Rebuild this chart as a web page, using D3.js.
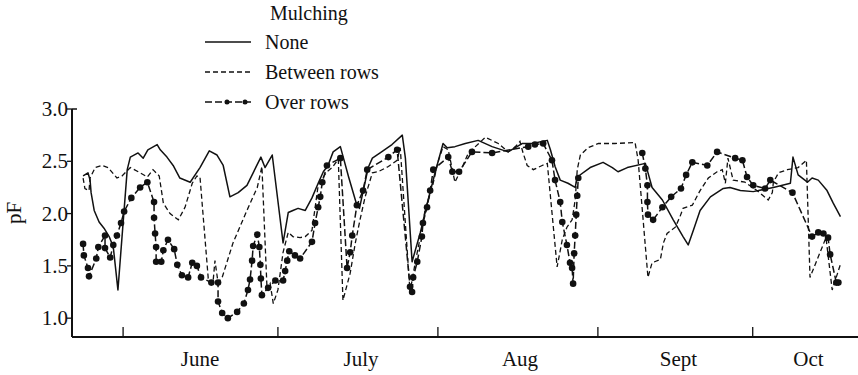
<!DOCTYPE html>
<html><head><meta charset="utf-8">
<script src="https://cdn.jsdelivr.net/npm/d3@7/dist/d3.min.js"></script>
<style>html,body{margin:0;padding:0;background:#fff;}</style>
</head><body>
<svg id="c" width="858" height="375" font-family="'Liberation Serif', 'Times New Roman', 'DejaVu Serif', serif"></svg>
<script>
// Days counted from June 1 (day 0); values are pF
const monthTickDays = [0, 30, 61, 92, 122];
const monthLabels = ["June", "July", "Aug", "Sept", "Oct"];
const monthLabelDays = [14.9, 46.1, 76.9, 107.6, 132.8];
const yTicks = [1.0, 1.5, 2.0, 2.5, 3.0];
const legendTitle = "Mulching";
const seriesNames = ["None", "Between rows", "Over rows"];

const noneSeries = [
[-7.75,2.36],[-6.8,2.39],[-6.4,2.32],[-6.2,2.20],[-5.6,2.03],[-4.65,1.92],[-3.7,1.86],[-2.7,1.78],[-1.9,1.68],[-1.0,1.27],
[0.8,2.42],[1.4,2.54],[2.9,2.58],[3.9,2.53],[4.8,2.61],[6.6,2.66],[7.2,2.61],[8.5,2.54],[9.7,2.46],[11.0,2.34],
[13.0,2.30],[14.9,2.44],[16.7,2.60],[18.2,2.56],[19.4,2.46],[20.7,2.16],[22.3,2.20],[24.0,2.27],[25.2,2.39],[26.7,2.54],
[27.5,2.44],[28.9,2.56],[31.0,1.72],[32.0,2.01],[32.9,2.03],[33.9,2.05],[35.3,2.03],[36.6,2.15],[37.8,2.29],[38.8,2.40],
[39.7,2.46],[40.7,2.59],[42.1,2.64],[43.7,2.35],[45.3,2.08],[45.8,2.05],[47.5,2.44],[48.3,2.53],[49.8,2.58],[52.1,2.66],
[54.1,2.75],[54.7,2.53],[56.0,1.54],[57.6,1.82],[59.1,2.13],[60.5,2.40],[62.0,2.67],[62.8,2.63],[64.3,2.64],[66.3,2.67],
[68.8,2.70],[71.5,2.64],[74.6,2.59],[76.0,2.63],[77.3,2.67],[79.3,2.67],[82.2,2.70],[82.8,2.61],[83.7,2.45],[84.7,2.32],
[86.2,2.29],[87.6,2.25],[88.0,2.35],[90.5,2.44],[93.0,2.49],[94.8,2.44],[95.9,2.40],[97.7,2.44],[101.2,2.48],[102.5,2.25],
[104.5,2.13],[106.6,1.94],[108.5,1.78],[109.5,1.70],[110.5,1.84],[111.8,2.03],[113.8,2.16],[116.3,2.24],[117.6,2.25],[119.6,2.22],
[122.1,2.21],[126.0,2.25],[129.3,2.29],[129.8,2.54],[130.8,2.37],[132.6,2.30],[133.5,2.34],[134.7,2.32],[136.4,2.22],[137.6,2.10],
[139.0,1.97]
];

const betweenSeries = [
[-7.75,2.34],[-7.4,2.24],[-6.6,2.22],[-6.4,2.34],[-5.4,2.44],[-4.1,2.46],[-2.9,2.44],[-1.2,2.34],[-0.2,2.36],[1.4,2.44],
[3.3,2.39],[4.7,2.35],[5.8,2.42],[7.0,2.36],[7.8,2.10],[9.1,2.00],[10.7,1.94],[12.0,2.06],[13.4,2.29],[14.3,2.36],
[14.9,2.35],[16.5,1.38],[17.4,1.33],[17.8,1.55],[18.4,1.34],[19.2,1.39],[21.3,1.72],[24.0,2.03],[26.0,2.25],[26.9,2.45],
[27.9,1.27],[28.5,1.33],[29.1,1.14],[30.0,1.27],[31.0,1.63],[32.0,1.82],[32.9,1.78],[34.3,1.77],[35.3,1.78],[36.6,1.84],
[37.8,2.27],[38.8,2.35],[39.5,2.40],[40.5,2.44],[41.7,2.52],[42.6,1.17],[44.0,1.43],[45.0,1.72],[45.9,1.94],[46.9,2.16],
[48.3,2.39],[49.4,2.40],[51.4,2.45],[53.1,2.51],[53.7,2.63],[55.6,1.25],[56.6,1.53],[57.6,1.78],[58.5,2.03],[59.9,2.25],
[61.0,2.49],[62.0,2.64],[63.0,2.61],[64.3,2.30],[65.7,2.44],[66.9,2.58],[67.6,2.61],[70.2,2.73],[72.7,2.67],[74.6,2.59],
[76.0,2.64],[76.9,2.69],[77.5,2.58],[78.3,2.46],[79.5,2.42],[81.2,2.46],[82.2,2.48],[84.1,1.49],[85.1,1.75],[86.0,1.87],
[87.0,1.94],[87.6,2.13],[88.0,2.42],[88.6,2.56],[90.1,2.63],[92.1,2.67],[95.3,2.67],[99.2,2.68],[99.8,2.51],[101.7,1.39],
[102.5,1.53],[104.1,1.56],[104.7,1.72],[105.4,1.81],[107.0,1.87],[107.9,1.97],[108.5,2.05],[110.3,2.08],[111.8,2.22],[113.4,2.34],
[115.1,2.40],[116.1,2.42],[116.7,2.29],[117.2,2.53],[118.2,2.32],[120.5,2.30],[123.1,2.21],[125.0,2.13],[125.8,2.20],[126.0,2.30],
[127.0,2.39],[128.7,2.42],[130.8,2.44],[132.4,2.51],[133.1,1.39],[136.2,1.77],[137.4,1.27],[139.1,1.53]
];

const overSeries = [
[-7.75,1.71],[-7.6,1.60],[-6.8,1.48],[-6.6,1.40],[-5.2,1.57],[-4.8,1.68],[-3.5,1.79],[-3.5,1.67],[-2.5,1.58],[-1.9,1.70],
[-1.2,1.79],[-0.4,1.91],[0.2,2.02],[1.6,2.15],[3.3,2.25],[4.7,2.30],[6.0,2.11],[6.0,1.96],[6.2,1.81],[6.4,1.68],
[6.4,1.54],[7.4,1.54],[7.8,1.65],[8.7,1.75],[9.9,1.66],[10.5,1.51],[11.4,1.41],[12.6,1.39],[13.4,1.53],[14.3,1.50],
[15.1,1.39],[17.1,1.34],[18.4,1.34],[18.4,1.16],[19.2,1.05],[20.3,1.00],[22.1,1.06],[23.4,1.14],[24.2,1.27],[24.6,1.37],
[25.0,1.55],[25.2,1.69],[26.0,1.80],[26.4,1.68],[26.6,1.51],[26.7,1.38],[26.9,1.22],[28.1,1.29],[29.5,1.36],[31.0,1.36],
[31.4,1.45],[31.8,1.55],[32.2,1.64],[33.3,1.60],[34.3,1.57],[36.6,1.73],[37.2,1.91],[37.8,2.06],[38.2,2.16],[38.6,2.30],
[39.5,2.46],[42.1,2.53],[43.4,1.48],[44.0,1.63],[44.4,1.79],[45.3,2.08],[46.5,2.22],[47.3,2.42],[51.4,2.54],[53.1,2.61],
[55.6,1.30],[56.0,1.25],[56.2,1.39],[57.0,1.54],[57.9,1.78],[58.1,1.91],[58.9,2.06],[59.5,2.22],[60.1,2.42],[63.0,2.54],
[63.8,2.40],[65.1,2.40],[67.6,2.59],[71.5,2.58],[78.5,2.64],[79.8,2.66],[81.4,2.67],[83.1,2.51],[83.7,2.32],[84.7,2.11],
[85.1,1.92],[86.0,1.70],[86.6,1.53],[87.0,1.48],[87.2,1.33],[87.4,1.62],[87.6,1.79],[87.8,1.99],[88.0,2.17],[88.2,2.34],
[null,null],
[100.6,2.58],[101.2,2.43],[101.6,2.27],[101.6,2.11],[101.7,1.99],[102.7,1.94],[104.5,2.06],[106.2,2.16],[108.1,2.24],[109.1,2.37],
[110.3,2.49],[113.2,2.46],[115.1,2.59],[118.6,2.53],[120.0,2.51],[120.9,2.35],[122.1,2.27],[124.4,2.24],[125.4,2.32],[129.7,2.20],
[133.5,1.78],[134.7,1.82],[135.7,1.81],[136.6,1.77],[137.0,1.61],[138.2,1.34],[138.6,1.34]
];

const FONT = "'Liberation Serif', 'Times New Roman', 'DejaVu Serif', serif";
const svg = d3.select("#c");
const x = d3.scaleLinear().domain([-9.9, 142.4]).range([72, 858]);
const y = d3.scaleLinear().domain([0.82, 3.0]).range([337, 109]);

function txt(sel, size) { return sel.append("text").attr("font-family", FONT).attr("fill", "#111").attr("font-size", size || 20); }

// axes
svg.append("line").attr("x1", x(-9.9)).attr("x2", 858).attr("y1", y(0.82)).attr("y2", y(0.82))
  .attr("stroke", "#111").attr("stroke-width", 2.2);
svg.append("line").attr("x1", x(-9.9)).attr("x2", x(-9.9)).attr("y1", y(3.0)).attr("y2", y(0.82))
  .attr("stroke", "#111").attr("stroke-width", 2);
svg.append("line").attr("x1", x(-9.9)).attr("x2", x(-9.9) + 5).attr("y1", y(3.0)).attr("y2", y(3.0))
  .attr("stroke", "#111").attr("stroke-width", 1.5);

const yg = svg.append("g");
yTicks.forEach(v => {
  yg.append("line").attr("x1", x(-9.9) - 5).attr("x2", x(-9.9)).attr("y1", y(v)).attr("y2", y(v))
    .attr("stroke", "#111").attr("stroke-width", 1.3);
  txt(yg, 21).attr("x", x(-9.9) - 4).attr("y", y(v) + 7).attr("text-anchor", "end").text(v.toFixed(1));
});

monthTickDays.forEach(d => {
  svg.append("line").attr("x1", x(d)).attr("x2", x(d)).attr("y1", y(0.82)).attr("y2", y(0.82) - 10)
    .attr("stroke", "#111").attr("stroke-width", 1.3);
});
monthLabels.forEach((m, i) => {
  txt(svg, 21).attr("x", x(monthLabelDays[i])).attr("y", 366).attr("text-anchor", "middle").text(m);
});

txt(svg, 21).attr("transform", "translate(21,213) rotate(-90)").attr("text-anchor", "middle").text("pF");

const line = d3.line().defined(d => d[0] != null).x(d => x(d[0])).y(d => y(d[1]));

svg.append("path").datum(noneSeries).attr("d", line).attr("fill", "none")
  .attr("stroke", "#111").attr("stroke-width", 1.5).attr("stroke-linejoin", "round");
svg.append("path").datum(betweenSeries).attr("d", line).attr("fill", "none")
  .attr("stroke", "#111").attr("stroke-width", 1.3).attr("stroke-dasharray", "5,3");
svg.append("path").datum(overSeries).attr("d", line).attr("fill", "none")
  .attr("stroke", "#111").attr("stroke-width", 1.5).attr("stroke-dasharray", "7,3");
svg.append("g").selectAll("circle").data(overSeries.filter(d => d[0] != null)).join("circle")
  .attr("cx", d => x(d[0])).attr("cy", d => y(d[1])).attr("r", 3.3).attr("fill", "#111");

// legend
const lg = svg.append("g");
txt(lg, 20).attr("x", 270).attr("y", 20).text(legendTitle);
const ly = [42, 72, 102];
const dash = [null, "5,3", "7,3"];
seriesNames.forEach((n, i) => {
  lg.append("line").attr("x1", 205).attr("x2", 251).attr("y1", ly[i]).attr("y2", ly[i])
    .attr("stroke", "#111").attr("stroke-width", i === 0 ? 1.5 : 1.3)
    .attr("stroke-dasharray", dash[i]);
  txt(lg, 20).attr("x", 265).attr("y", ly[i] + 7).text(n);
});
[227, 245].forEach(cx => lg.append("circle").attr("cx", cx).attr("cy", ly[2]).attr("r", 2.5).attr("fill", "#111"));
</script>
</body></html>
